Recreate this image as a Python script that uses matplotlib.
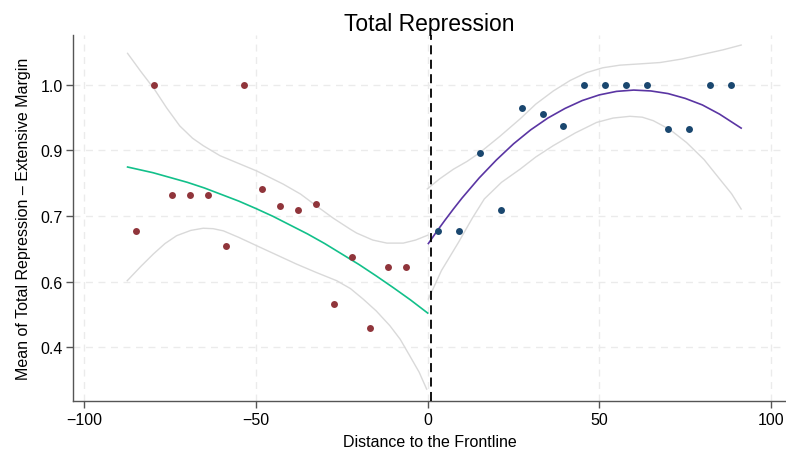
import matplotlib.pyplot as plt

# binned means
west_x = [-84.9, -79.6, -74.4, -69.1, -63.9, -58.8, -53.5, -48.3, -42.9, -37.7,
          -32.5, -27.3, -22.1, -16.7, -11.6, -6.2]
west_y = [0.666, 1.0, 0.749, 0.749, 0.749, 0.631, 1.0, 0.761, 0.722, 0.714,
          0.727, 0.499, 0.606, 0.443, 0.583, 0.583]
east_x = [3.0, 9.1, 15.2, 21.3, 27.4, 33.5, 39.5, 45.6, 51.7, 57.9, 63.9,
          70.0, 76.1, 82.2, 88.3]
east_y = [0.666, 0.666, 0.843, 0.714, 0.947, 0.933, 0.905, 1.0, 1.0, 1.0, 1.0,
          0.900, 0.900, 1.0, 1.0]

# fitted lines
west_fit_x = [-87.4, -80, -75, -70, -65, -60, -55, -50, -45, -40, -35, -30,
              -25, -20, -15, -10, -5, 0]
west_fit_y = [0.812, 0.799, 0.788, 0.777, 0.764, 0.749, 0.734, 0.717, 0.699,
              0.679, 0.659, 0.637, 0.613, 0.589, 0.563, 0.536, 0.508, 0.478]
east_fit_x = [0.2, 2.5, 5, 7.5, 10, 15, 20, 25, 30, 35, 40, 45, 50, 55, 60,
              65, 70, 75, 80, 85, 91.3]
east_fit_y = [0.637, 0.663, 0.690, 0.716, 0.741, 0.787, 0.828, 0.865, 0.897,
              0.924, 0.946, 0.964, 0.977, 0.985, 0.988, 0.986, 0.980, 0.969,
              0.954, 0.933, 0.901]

# confidence bands
west_hi_x = [-87.4, -83.5, -79.6, -76, -72.2, -68.5, -65.4, -60.5, -55, -49.8,
             -42.1, -37, -32.4, -27.5, -22.6, -20.7, -16, -11.9, -7.1, -3.5, 0]
west_hi_y = [1.072, 1.030, 0.990, 0.947, 0.906, 0.878, 0.861, 0.838, 0.820,
             0.803, 0.773, 0.750, 0.723, 0.695, 0.670, 0.661, 0.645, 0.638,
             0.638, 0.645, 0.656]
west_lo_x = [-87.5, -83.5, -79.9, -76.5, -73.1, -69, -65.4, -62.5, -59.5, -55,
             -49.8, -44, -38.2, -32.5, -26.5, -22.5, -18.8, -15, -11.0, -8,
             -5.2, -2.5, -0.3]
west_lo_y = [0.552, 0.585, 0.613, 0.637, 0.655, 0.667, 0.672, 0.671, 0.666,
             0.651, 0.632, 0.611, 0.590, 0.571, 0.552, 0.534, 0.510, 0.483,
             0.449, 0.418, 0.380, 0.343, 0.304]
east_hi_x = [-0.1, 3.5, 7.5, 11.5, 15.2, 21, 26.9, 31.5, 36.6, 41.5, 46.3, 51,
             56.0, 62, 67.7, 74, 80.3, 86, 91.3]
east_hi_y = [0.762, 0.785, 0.807, 0.825, 0.845, 0.882, 0.922, 0.956, 0.986,
             1.010, 1.028, 1.039, 1.045, 1.048, 1.051, 1.059, 1.070, 1.080, 1.091]
east_lo_x = [0.2, 4, 9, 13, 16.5, 21.5, 26.9, 31.5, 36.6, 43, 49.2, 54, 58.9,
             62.5, 65.7, 70.5, 75.4, 80.5, 85.1, 88.5, 91.3]
east_lo_y = [0.510, 0.575, 0.640, 0.695, 0.739, 0.777, 0.807, 0.835, 0.861,
             0.890, 0.914, 0.924, 0.928, 0.926, 0.918, 0.898, 0.868, 0.829,
             0.784, 0.751, 0.716]

x_ticks = [-100, -50, 0, 50, 100]
x_tick_labels = ['\u2212100', '\u221250', '0', '50', '100']
y_ticks = [0.4, 0.55, 0.7, 0.85, 1.0]
y_tick_labels = ['0.4', '0.6', '0.7', '0.9', '1.0']

plt.rcParams['font.family'] = ['Liberation Sans', 'DejaVu Sans']

fig = plt.figure(figsize=(7.86, 4.52), dpi=100)
ax = fig.add_axes([0.0933, 0.110, 0.906, 0.810])

# CI bands
for bx, by in [(west_hi_x, west_hi_y), (west_lo_x, west_lo_y),
               (east_hi_x, east_hi_y), (east_lo_x, east_lo_y)]:
    ax.plot(bx, by, color='#d9d9d9', linewidth=1.0, zorder=2)

# fits
ax.plot(west_fit_x, west_fit_y, color='#12c08a', linewidth=1.2, zorder=3)
ax.plot(east_fit_x, east_fit_y, color='#5a35a3', linewidth=1.2, zorder=3)

# points
ax.plot(west_x, west_y, 'o', color='#90353b', markersize=5, markeredgewidth=0, zorder=4)
ax.plot(east_x, east_y, 'o', color='#1a476f', markersize=5, markeredgewidth=0, zorder=4)

# cutoff line
ax.axvline(1, color='black', linewidth=1.3, dashes=(5, 3), zorder=5)

ax.set_xlim(-103.2, 104.2)
ax.set_ylim(0.2762, 1.1136)
ax.set_xticks(x_ticks)
ax.set_xticklabels(x_tick_labels)
ax.set_yticks(y_ticks)
ax.set_yticklabels(y_tick_labels)

ax.grid(True, color='#ebebeb', linestyle=(0, (5, 4)), linewidth=1.0, zorder=0)
ax.set_axisbelow(True)

for side in ['top', 'right']:
    ax.spines[side].set_visible(False)
for side in ['left', 'bottom']:
    ax.spines[side].set_color('#555555')
    ax.spines[side].set_linewidth(1.0)
ax.tick_params(colors='#555555', labelcolor='black', length=5, width=1.0,
               labelsize=11.5, pad=2.5)

ax.set_title('Total Repression', fontsize=16.5, pad=4)
ax.set_xlabel('Distance to the Frontline', fontsize=11.5, labelpad=5)
ax.set_ylabel('Mean of Total Repression \u2013 Extensive Margin', fontsize=11.5, labelpad=7)

plt.savefig('out.png', dpi=100)
